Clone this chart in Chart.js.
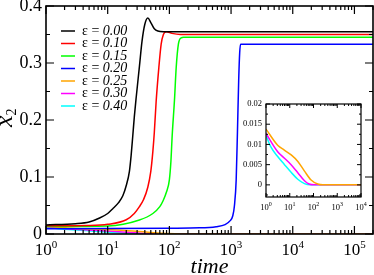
<!DOCTYPE html>
<html lang="en">
<head>
    <meta charset="UTF-8">
    <title>x2 vs time</title>
    <script src="https://cdn.jsdelivr.net/npm/chart.js"></script>
    <style>
        body { margin: 0; background: #fff; }
        #wrap { position: relative; width: 374px; height: 275px; }
        #inset { position: absolute; left: 234px; top: 98px; }
    </style>
</head>
<body>
<div id="wrap">
    <canvas id="main" width="374" height="275"></canvas>
    <canvas id="inset" width="140" height="122"></canvas>
</div>
<script>
// values: [time, x2]
const eps000 = [[1, 0.016], [3, 0.018], [5, 0.021], [7.4, 0.028], [10, 0.036], [12, 0.044], [15, 0.055],
    [17.6, 0.067], [20, 0.085], [22.5, 0.11], [24, 0.138], [25.5, 0.172], [27, 0.205], [29, 0.24],
    [32.7, 0.294], [36, 0.338], [40, 0.368], [44.7, 0.379], [50, 0.371], [57, 0.36], [65, 0.356],
    [80, 0.355], [200000, 0.355]];
const eps010 = [[1, 0.0145], [5, 0.015], [10, 0.017], [20, 0.025], [27, 0.036], [32.7, 0.048], [38, 0.06],
    [44.7, 0.082], [50, 0.11], [54, 0.145], [57, 0.178], [61, 0.232], [67.5, 0.292], [73.6, 0.333],
    [80, 0.35], [89, 0.355], [110, 0.352], [150, 0.35], [200000, 0.35]];
const eps015 = [[1, 0.013], [10, 0.014], [32.7, 0.0246], [54, 0.036], [70, 0.048], [78, 0.057], [90, 0.074],
    [100, 0.095], [106, 0.128], [111, 0.172], [121, 0.235], [129, 0.292], [140, 0.333], [155, 0.344],
    [170, 0.345], [200000, 0.345]];
const eps020 = [[1, 0.009], [10, 0.0095], [100, 0.0102], [310, 0.0108], [573, 0.0129], [800, 0.0165],
    [960, 0.023], [1067, 0.032], [1135, 0.05], [1211, 0.095], [1270, 0.18], [1330, 0.27], [1380, 0.318],
    [1430, 0.333], [200000, 0.333]];
const eps025 = [[1, 0.0138], [3.1, 0.0098], [5.9, 0.0086], [11.5, 0.0074], [21.9, 0.0058], [41.7, 0.0034],
    [79, 0.0012], [151, 0.0002], [250, 0], [200000, 0]];
const eps030 = [[1, 0.0127], [3.1, 0.0082], [6, 0.0066], [11.4, 0.005], [21.8, 0.003], [41.7, 0.001],
    [65, 0.0002], [110, 0], [200000, 0]];
const eps040 = [[1, 0.0122], [1.6, 0.0094], [3.1, 0.007], [6, 0.005], [11.4, 0.0031], [21.8, 0.0014],
    [41.7, 0.0003], [70, 0], [200000, 0]];

const epsLabels = ['0.00', '0.10', '0.15', '0.20', '0.25', '0.30', '0.40'];
const epsSeries = [eps000, eps010, eps015, eps020, eps025, eps030, eps040];
const epsColors = ['#000000', '#ff0000', '#00ff00', '#0000ff', '#ffa500', '#ff00ff', '#00ffff'];

const mainYTicks = [0, 0.1, 0.2, 0.3, 0.4];
const mainYLabels = ['0', '0.1', '0.2', '0.3', '0.4'];
const mainDecades = [0, 1, 2, 3, 4, 5];
const insetYTicks = [0, 0.005, 0.01, 0.015, 0.02];
const insetYLabels = ['0', '0.005', '0.01', '0.015', '0.02'];
const insetDecades = [0, 1, 2, 3, 4];
const insetShown = [4, 5, 6]; // eps 0.25, 0.30, 0.40

const SERIF = '"Liberation Serif", "Times New Roman", serif';

function makeSet(i) {
    return {
        label: epsLabels[i],
        data: epsSeries[i].map(p => ({ x: p[0], y: p[1] })),
        borderColor: epsColors[i],
        borderWidth: 1.5,
        pointRadius: 0,
        cubicInterpolationMode: 'monotone'
    };
}

// frame, inward ticks on all sides, and tick labels
function drawAxes(chart, c) {
    const ctx = chart.ctx;
    const a = chart.chartArea;
    const x = chart.scales.x, y = chart.scales.y;
    ctx.save();
    ctx.strokeStyle = '#000';
    ctx.lineWidth = c.lw;
    ctx.strokeRect(a.left, a.top, a.right - a.left, a.bottom - a.top);
    ctx.lineWidth = c.tw;
    ctx.beginPath();
    c.decades.forEach(d => {
        for (let k = 1; k <= 9; k++) {
            const v = k * Math.pow(10, d);
            if (v > x.max * 1.001) break;
            const px = x.getPixelForValue(v);
            const len = k === 1 ? c.major : c.minor;
            ctx.moveTo(px, a.bottom); ctx.lineTo(px, a.bottom - len);
            ctx.moveTo(px, a.top); ctx.lineTo(px, a.top + len);
        }
    });
    const step = c.yTicks[1] - c.yTicks[0];
    for (let v = c.yTicks[0] - step; v <= c.yTicks[c.yTicks.length - 1] + 1e-9; v += step / 2) {
        if (v < y.min - 1e-9) continue;
        const py = y.getPixelForValue(v);
        const isMajor = c.yTicks.some(t => Math.abs(t - v) < 1e-9);
        const len = isMajor ? c.major : c.minor;
        ctx.moveTo(a.left, py); ctx.lineTo(a.left + len, py);
        ctx.moveTo(a.right, py); ctx.lineTo(a.right - len, py);
    }
    ctx.stroke();

    ctx.fillStyle = '#000';
    ctx.textBaseline = 'middle';
    ctx.textAlign = 'right';
    ctx.font = c.yFont + 'px ' + SERIF;
    c.yTicks.forEach((v, i) => {
        ctx.fillText(c.yLabels[i], a.left - c.yGap, y.getPixelForValue(v));
    });

    ctx.textBaseline = 'alphabetic';
    ctx.textAlign = 'left';
    c.decades.forEach(d => {
        const px = x.getPixelForValue(Math.pow(10, d));
        ctx.font = c.xFont + 'px ' + SERIF;
        const w1 = ctx.measureText('10').width;
        ctx.font = c.expFont + 'px ' + SERIF;
        const w2 = ctx.measureText(String(d)).width;
        const x0 = px - (w1 + w2) / 2;
        ctx.font = c.xFont + 'px ' + SERIF;
        ctx.fillText('10', x0, a.bottom + c.xBase);
        ctx.font = c.expFont + 'px ' + SERIF;
        ctx.fillText(String(d), x0 + w1, a.bottom + c.xBase - c.xFont * 0.42);
    });
    ctx.restore();
}

const mainDecor = {
    id: 'mainDecor',
    afterDraw(chart) {
        drawAxes(chart, {
            lw: 1.6, tw: 1.2, major: 8, minor: 4,
            decades: mainDecades, yTicks: mainYTicks, yLabels: mainYLabels,
            yFont: 18, yGap: 4, xFont: 17, expFont: 11, xBase: 21
        });
        const ctx = chart.ctx;
        const a = chart.chartArea;
        ctx.save();
        ctx.fillStyle = '#000';
        // axis titles
        ctx.textAlign = 'center';
        ctx.font = 'italic 22px ' + SERIF;
        ctx.fillText('time', (a.left + a.right) / 2, 273);
        ctx.translate(12, 127);
        ctx.rotate(-Math.PI / 2);
        ctx.textAlign = 'left';
        ctx.font = 'italic 26px ' + SERIF;
        const wx = ctx.measureText('x').width;
        ctx.fillText('x', 0, 0);
        ctx.font = '14px ' + SERIF;
        ctx.fillText('2', wx, 4);
        ctx.restore();

        // legend
        ctx.save();
        ctx.textBaseline = 'middle';
        ctx.lineWidth = 1.5;
        epsLabels.forEach((lab, i) => {
            const ly = 31 + i * 12.5;
            ctx.strokeStyle = epsColors[i];
            ctx.beginPath();
            ctx.moveTo(61, ly); ctx.lineTo(75, ly);
            ctx.stroke();
            ctx.fillStyle = '#000';
            ctx.font = '14px ' + SERIF;
            const head = 'ε = ';
            ctx.fillText(head, 82, ly);
            const w = ctx.measureText(head).width;
            ctx.font = 'italic 14px ' + SERIF;
            ctx.fillText(lab, 82 + w, ly);
        });
        ctx.restore();
    }
};

const insetDecor = {
    id: 'insetDecor',
    beforeDraw(chart) {
        const ctx = chart.ctx;
        const a = chart.chartArea;
        ctx.save();
        ctx.fillStyle = '#fff';
        ctx.fillRect(a.left, a.top, a.right - a.left, a.bottom - a.top);
        ctx.restore();
    },
    afterDraw(chart) {
        drawAxes(chart, {
            lw: 1.2, tw: 1, major: 4, minor: 2,
            decades: insetDecades, yTicks: insetYTicks, yLabels: insetYLabels,
            yFont: 8.5, yGap: 4, xFont: 8.5, expFont: 6, xBase: 13
        });
    }
};

new Chart(document.getElementById('main'), {
    type: 'line',
    data: { datasets: epsSeries.map((s, i) => makeSet(i)) },
    options: {
        responsive: false,
        animation: false,
        layout: { padding: { left: 46, top: 6, right: 1, bottom: 41 } },
        scales: {
            x: { type: 'logarithmic', min: 1, max: 200000, display: false },
            y: { type: 'linear', min: 0, max: 0.4, display: false }
        },
        plugins: { legend: { display: false }, tooltip: { enabled: false } }
    },
    plugins: [mainDecor]
});

new Chart(document.getElementById('inset'), {
    type: 'line',
    data: { datasets: insetShown.map(i => makeSet(i)) },
    options: {
        responsive: false,
        animation: false,
        layout: { padding: { left: 32, top: 6, right: 13, bottom: 23 } },
        scales: {
            x: { type: 'logarithmic', min: 1, max: 10000, display: false },
            y: { type: 'linear', min: -0.003, max: 0.02, display: false }
        },
        plugins: { legend: { display: false }, tooltip: { enabled: false } }
    },
    plugins: [insetDecor]
});
</script>
</body>
</html>
